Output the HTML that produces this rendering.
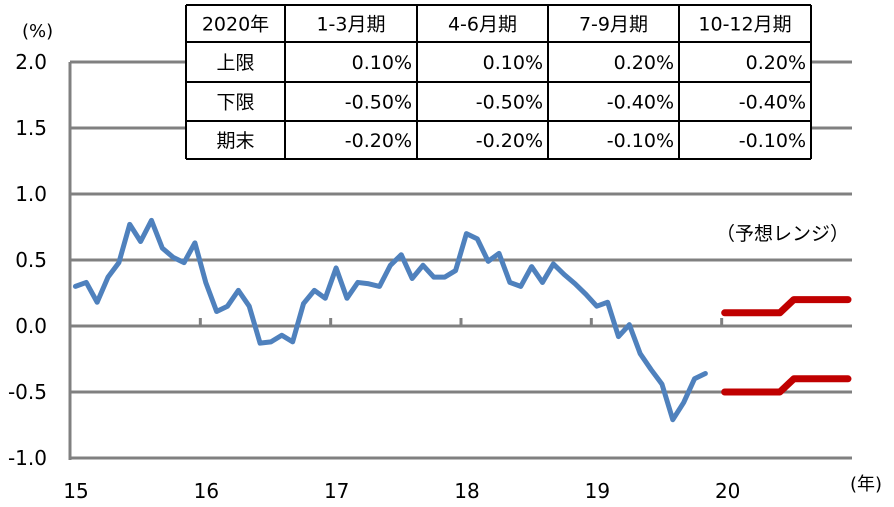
<!DOCTYPE html>
<html><head><meta charset="utf-8"><style>
body{margin:0;background:#fff;}
svg text{font-family:"DejaVu Sans","Noto Sans CJK JP",sans-serif;fill:#000;}
</style></head><body>
<svg width="894" height="502" viewBox="0 0 894 502" xmlns="http://www.w3.org/2000/svg">
<g id="grid"></g>
<g id="ylabels"></g>
<g id="xlabels"></g>
<text x="22" y="37" font-size="18">(%)</text>
<text x="850" y="490" font-size="18">(年)</text>
<text x="716" y="240" font-size="19">（予想レンジ）</text>
<g id="series"></g>
<g id="table"></g>
</svg>
<script>
const yTicks=[2.0,1.5,1.0,0.5,0.0,-0.5,-1.0];
const yTickLabels=["2.0","1.5","1.0","0.5","0.0","-0.5","-1.0"];
const xYears=["15","16","17","18","19","20"];
const cpiValues=[0.30,0.33,0.18,0.37,0.48,0.77,0.64,0.80,0.59,0.52,0.48,0.63,0.33,0.11,0.15,0.27,0.15,-0.13,-0.12,-0.07,-0.12,0.17,0.27,0.21,0.44,0.21,0.33,0.32,0.30,0.46,0.54,0.36,0.46,0.37,0.37,0.42,0.70,0.66,0.49,0.55,0.33,0.30,0.45,0.33,0.47,0.39,0.32,0.24,0.15,0.18,-0.08,0.01,-0.21,-0.33,-0.44,-0.71,-0.58,-0.40,-0.36];
const upperRange=[0.10,0.10,0.20,0.20];
const lowerRange=[-0.50,-0.50,-0.40,-0.40];
const tableHeader=["2020年","1-3月期","4-6月期","7-9月期","10-12月期"];
const tableRows=[["上限","0.10%","0.10%","0.20%","0.20%"],["下限","-0.50%","-0.50%","-0.40%","-0.40%"],["期末","-0.20%","-0.20%","-0.10%","-0.10%"]];

const NS="http://www.w3.org/2000/svg";
const X0=70,X1=852,YW=(X1-X0)/6;
const y=v=>326-v*132;
const xm=i=>X0+(i+0.5)*YW/12;
const xq=q=>X0+5*YW+q*YW/4;
function mk(tag,attrs,parent){const e=document.createElementNS(NS,tag);for(const k in attrs)e.setAttribute(k,attrs[k]);parent.appendChild(e);return e;}
const grid=document.getElementById('grid');
yTicks.forEach((v,i)=>{
 const l=mk('line',{x1:X0,x2:X1,y1:y(v),y2:y(v),stroke:'#808080','stroke-width':3},grid);
 
 
 const t=mk('text',{x:47,y:y(v)+7,'font-size':20,'text-anchor':'end'},document.getElementById('ylabels'));
 t.textContent=yTickLabels[i];
 
 
});
const ax=mk('line',{x1:X0,x2:X0,y1:y(2),y2:y(-1)+2,stroke:'#808080','stroke-width':3},grid);


xYears.forEach((s,i)=>{
 const xx=X0+i*YW;
 if(i>0){const tk=mk('line',{x1:xx,x2:xx,y1:y(0)-8,y2:y(0),stroke:'#808080','stroke-width':3},grid);
 
 }
 const t=mk('text',{x:xx+6,y:498,'font-size':20,'text-anchor':'middle'},document.getElementById('xlabels'));
 t.textContent=s;
 
 
});
const ser=document.getElementById('series');
const p=mk('polyline',{points:cpiValues.map((v,i)=>xm(i)+','+y(v)).join(' '),fill:'none',stroke:'#4f81bd','stroke-width':5,'stroke-linejoin':'round','stroke-linecap':'round'},ser);


function rangeLine(vals,name){
 const pts=[];
 vals.forEach((v,q)=>{pts.push([xq(q)+(q===0?3:7),y(v)]);pts.push([xq(q+1)-(q===3?4:7),y(v)]);});
 const l=mk('polyline',{points:pts.map(a=>a.join(',')).join(' '),fill:'none',stroke:'#c00000','stroke-width':7,'stroke-linejoin':'round','stroke-linecap':'round'},ser);
 
 
}
rangeLine(upperRange,'upper-range-line');
rangeLine(lowerRange,'lower-range-line');
const tb=document.getElementById('table');
const cols=[186,285,417,548,679,811];
const rows=[5,42,82,121,159];
mk('rect',{x:186,y:5,width:625,height:154,fill:'#fff'},tb);
rows.forEach(r=>mk('line',{x1:186,x2:811,y1:r,y2:r,stroke:'#000','stroke-width':2},tb));
cols.forEach(c=>mk('line',{x1:c,x2:c,y1:5,y2:159,stroke:'#000','stroke-width':2},tb));
[tableHeader].concat(tableRows).forEach((row,ri)=>{
 row.forEach((s,ci)=>{
  const center=ri===0||ci===0;
  const t=mk('text',{x:center?(cols[ci]+cols[ci+1])/2:cols[ci+1]-5,y:(rows[ri]+rows[ri+1])/2+7,'font-size':19,'text-anchor':center?'middle':'end'},tb);
  t.textContent=s;
  
  
 });
});
</script>
</body></html>
